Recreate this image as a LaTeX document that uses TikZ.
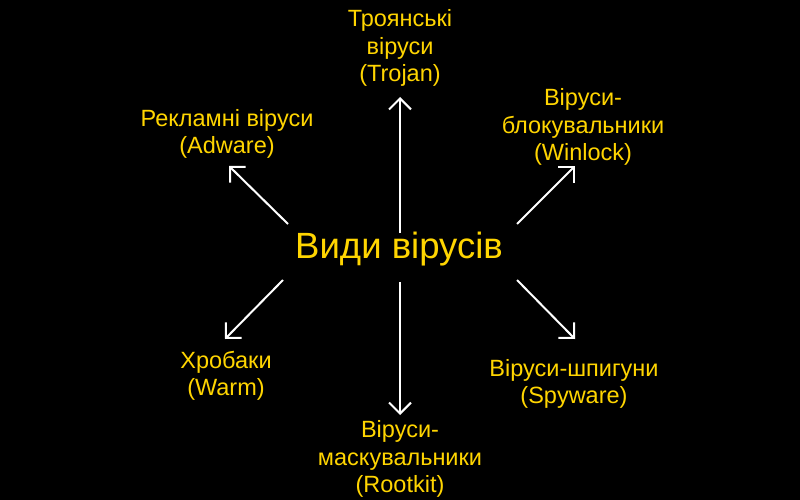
\documentclass[tikz,border=0pt]{standalone}
\usepackage{fontspec}
\setmainfont{Liberation Sans}
\usetikzlibrary{arrows.meta}
\definecolor{gold}{HTML}{FFD500}
\begin{document}
\begin{tikzpicture}[x=1pt,y=-1pt,
  lbl/.style={text=gold,font=\fontsize{23.5}{27.5}\selectfont,align=center,inner sep=0pt},
  arr/.style={draw=white,line width=2pt,-{Straight Barb[length=11pt,width=22pt,line width=2pt]}}]
\fill[black] (0,0) rectangle (800,500);
\useasboundingbox (0,0) rectangle (800,500);
\node[text=gold,font=\fontsize{36.5}{42}\selectfont,inner sep=0pt] (c) at (399,249) {Види вірусів};
\node[lbl] (tro) at (400,48) {Троянські\\віруси\\(Trojan)};
\node[lbl] (adw) at (227,134) {Рекламні віруси\\(Adware)};
\node[lbl] (win) at (583,127) {Віруси-\\блокувальники\\(Winlock)};
\node[lbl] (wor) at (226,376) {Хробаки\\(Warm)};
\node[lbl] (spy) at (574,384) {Віруси-шпигуни\\(Spyware)};
\node[lbl] (roo) at (400,459) {Віруси-\\маскувальники\\(Rootkit)};
\coordinate (t1) at (400,233); \coordinate (h1) at (400,97);
\coordinate (t2) at (288,224); \coordinate (h2) at (229,166);
\coordinate (t3) at (517,224); \coordinate (h3) at (575,166);
\coordinate (t4) at (283,280); \coordinate (h4) at (225,339);
\coordinate (t5) at (517,280); \coordinate (h5) at (575,339);
\coordinate (t6) at (400,282); \coordinate (h6) at (400,415);
\foreach \i in {1,...,6} \draw[arr] (t\i) -- (h\i);
\end{tikzpicture}
\end{document}
